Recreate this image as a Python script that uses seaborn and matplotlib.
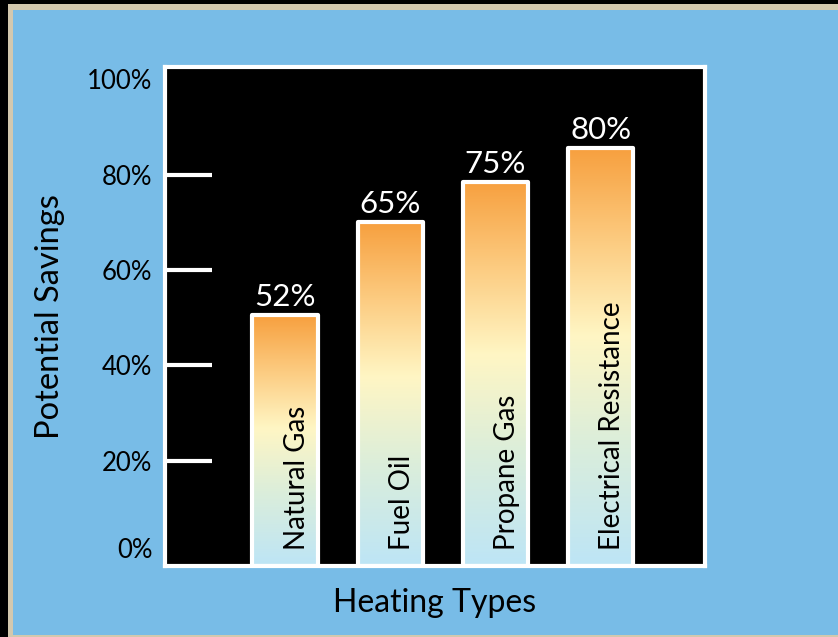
import matplotlib
matplotlib.use("Agg")
import matplotlib.pyplot as plt
import numpy as np
import pandas as pd
import seaborn as sns
from matplotlib.colors import LinearSegmentedColormap
from matplotlib.patches import Rectangle
from matplotlib.transforms import ScaledTranslation

# values
heating_types = ["Natural Gas", "Fuel Oil", "Propane Gas", "Electrical Resistance"]
bar_heights = [50.5, 70, 78.5, 85.5]
savings_labels = ["52%", "65%", "75%", "80%"]
y_ticks = [0, 20, 40, 60, 80, 100]
y_tick_labels = ["0%", "20%", "40%", "60%", "80%", "100%"]

BLUE = "#78bce7"
BEIGE = "#d3c8ae"
Y_LO, Y_HI = -2.1, 102.6

sns.set_theme(style="white")
plt.rcParams["font.family"] = ["Lato", "DejaVu Sans"]

fig = plt.figure(figsize=(8.38, 6.37), dpi=100)
fig.patch.set_facecolor("black")
fig.add_artist(Rectangle((8 / 838, 0), 1, 633 / 637, transform=fig.transFigure,
                         facecolor=BEIGE, edgecolor="none", zorder=-2))
fig.add_artist(Rectangle((13 / 838, 2 / 637), 1, 625 / 637, transform=fig.transFigure,
                         facecolor=BLUE, edgecolor="none", zorder=-1))

ax = fig.add_axes([0.1969, 0.1115, 0.6444, 0.7834])
ax.set_facecolor("black")

df = pd.DataFrame({"type": heating_types, "height": bar_heights})
sns.barplot(data=df, x="type", y="height", ax=ax, width=0.62,
            color="white", edgecolor="white", linewidth=3, saturation=1)

cmap = LinearSegmentedColormap.from_list(
    "heat",
    [(0.0, "#bde5f6"), (0.3, "#dceeda"), (0.55, "#fff6c4"),
     (0.78, "#fccb80"), (1.0, "#f7a03f")],
)
grad = np.linspace(0, 1, 256).reshape(-1, 1)

for i, (p, h) in enumerate(zip(ax.patches, bar_heights)):
    # bars start at the bottom edge of the frame
    p.set_y(Y_LO)
    p.set_height(h - Y_LO)
    p.set_facecolor("none")
    p.set_joinstyle("round")
    p.set_zorder(3)
    x0 = p.get_x()
    im = ax.imshow(grad, cmap=cmap, origin="lower", aspect="auto",
                   extent=[x0, x0 + p.get_width(), Y_LO, h], zorder=2)
    im.set_clip_path(p)
    ax.text(i + 0.11, 1.2, heating_types[i], rotation=90, ha="center",
            va="bottom", fontsize=20, color="black", zorder=4)
    ax.text(i, h + 0.9, savings_labels[i], ha="center", va="bottom",
            fontsize=22.5, color="white", zorder=4)

ax.set_xlim(-1.14, 3.99)
ax.set_ylim(Y_LO, Y_HI)
ax.set_xticks([])
ax.set_yticks(y_ticks, y_tick_labels)
ax.tick_params(axis="y", direction="in", length=34, width=3, color="white",
               pad=9, labelsize=18.5, labelcolor="black", left=True)
ticks = ax.yaxis.get_major_ticks()
ticks[0].tick1line.set_visible(False)
ticks[-1].tick1line.set_visible(False)
lab0 = ax.get_yticklabels()[0]
lab0.set_transform(lab0.get_transform() + ScaledTranslation(0, 0.08, fig.dpi_scale_trans))

for s in ax.spines.values():
    s.set_visible(True)
    s.set_color("white")
    s.set_linewidth(3)

ax.set_xlabel("Heating Types", fontsize=23, labelpad=16, color="black")
ax.set_ylabel("Potential Savings", fontsize=23.5, labelpad=16, color="black")

fig.savefig("out.png", dpi=100, facecolor=fig.get_facecolor())
